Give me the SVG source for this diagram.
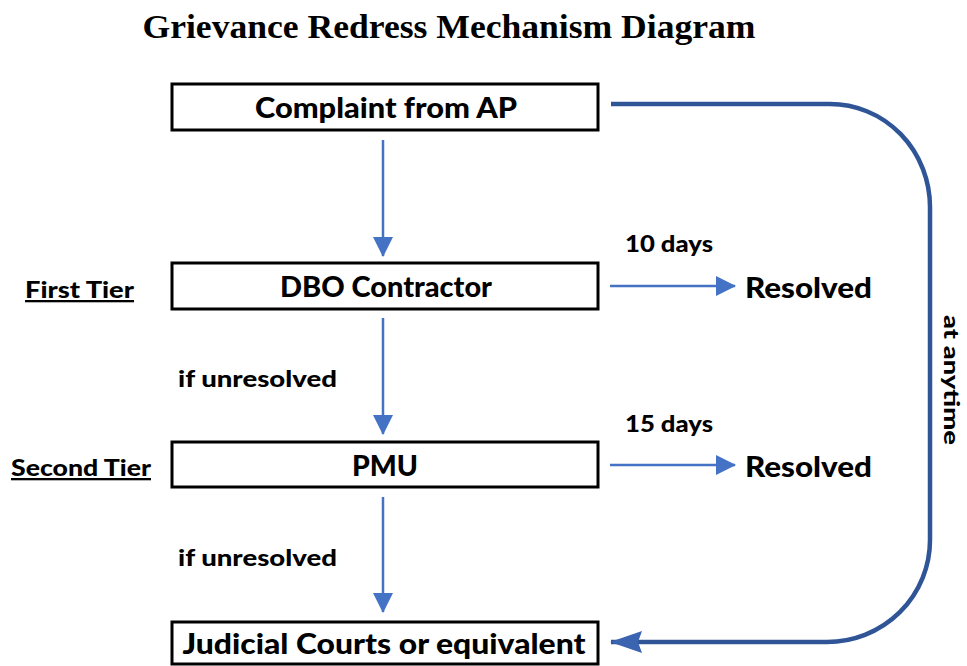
<svg xmlns="http://www.w3.org/2000/svg" width="967" height="666" viewBox="0 0 967 666">
<defs>
<style>
.box{fill:#fff;stroke:#000;stroke-width:3}
.t{font-family:Lato,"Liberation Sans",sans-serif;font-weight:900;fill:#000}
.c{stroke:#4472c4;stroke-width:2.5;fill:none}
.big{stroke:#2f5597;stroke-width:4.5;fill:none}
</style>
<marker id="ah2" markerWidth="32" markerHeight="22" refX="31" refY="11" orient="auto" markerUnits="userSpaceOnUse" viewBox="0 0 32 22"><path d="M0,11 L32,0 L28,11 L32,22 z" transform="rotate(180 16 11)" fill="#3a63b0"/></marker>
<marker id="ahv" markerWidth="20" markerHeight="20" refX="19" refY="10" orient="auto" markerUnits="userSpaceOnUse" viewBox="0 0 20 20"><path d="M0,0 L20,10 L0,20 z" fill="#4472c4"/></marker>
</defs>
<rect width="967" height="666" fill="#fff"/>
<text x="449" y="38" text-anchor="middle" font-family="'Liberation Serif',serif" font-weight="bold" font-size="34" textLength="613" lengthAdjust="spacingAndGlyphs">Grievance Redress Mechanism Diagram</text>
<g id="connectors">
<line class="c" x1="383" y1="140" x2="383" y2="256" marker-end="url(#ahv)"/>
<line class="c" x1="383" y1="318" x2="383" y2="434" marker-end="url(#ahv)"/>
<line class="c" x1="383" y1="497" x2="383" y2="612" marker-end="url(#ahv)"/>
<line class="c" x1="610" y1="286" x2="735" y2="286" marker-end="url(#ahv)"/>
<line class="c" x1="610" y1="465" x2="735" y2="465" marker-end="url(#ahv)"/>
<path class="big" d="M611,104 L830,104 A100,103 0 0 1 930,207 L930,540 A103,102 0 0 1 827,642 L611,642" marker-end="url(#ah2)"/>
</g>
<g id="complaint"><rect class="box" x="172" y="84" width="426" height="46"/><text class="t" x="386" y="118" text-anchor="middle" font-size="29" textLength="262" lengthAdjust="spacingAndGlyphs">Complaint from AP</text></g>
<g id="dbo"><rect class="box" x="172" y="263" width="426" height="46"/><text class="t" x="386" y="297" text-anchor="middle" font-size="29" textLength="212" lengthAdjust="spacingAndGlyphs">DBO Contractor</text></g>
<g id="pmu"><rect class="box" x="172" y="442" width="426" height="45"/><text class="t" x="385" y="476" text-anchor="middle" font-size="29" textLength="66" lengthAdjust="spacingAndGlyphs">PMU</text></g>
<g id="judicial"><rect class="box" x="172" y="622" width="426" height="42"/><text class="t" x="384" y="654" text-anchor="middle" font-size="29" textLength="403" lengthAdjust="spacingAndGlyphs">Judicial Courts or equivalent</text></g>
<g id="resolved1"><text class="t" x="745" y="298" font-size="29" textLength="127" lengthAdjust="spacingAndGlyphs">Resolved</text></g>
<g id="resolved2"><text class="t" x="745" y="477" font-size="29" textLength="127" lengthAdjust="spacingAndGlyphs">Resolved</text></g>
<g id="labels">
<text class="t" x="25" y="298" font-size="23" text-decoration="underline" textLength="109" lengthAdjust="spacingAndGlyphs">First Tier</text>
<text class="t" x="11" y="476" font-size="23" text-decoration="underline" textLength="140" lengthAdjust="spacingAndGlyphs">Second Tier</text>
<text class="t" x="625" y="252" font-size="22" textLength="88" lengthAdjust="spacingAndGlyphs">10 days</text>
<text class="t" x="625" y="432" font-size="22" textLength="88" lengthAdjust="spacingAndGlyphs">15 days</text>
<text class="t" x="178" y="387" font-size="23" textLength="159" lengthAdjust="spacingAndGlyphs">if unresolved</text>
<text class="t" x="178" y="566" font-size="23" textLength="159" lengthAdjust="spacingAndGlyphs">if unresolved</text>
<text class="t" font-size="21" transform="translate(944,380) rotate(90)" text-anchor="middle" textLength="130" lengthAdjust="spacingAndGlyphs">at anytime</text>
</g>
</svg>
